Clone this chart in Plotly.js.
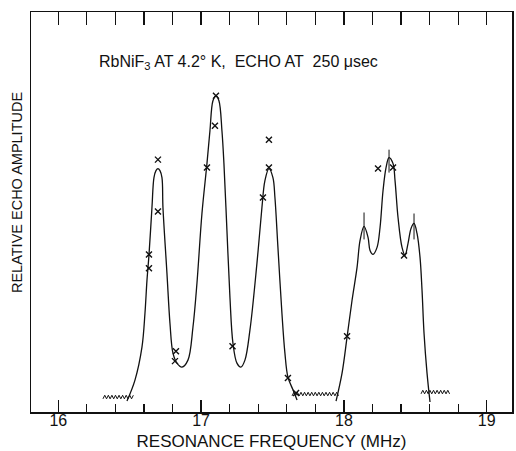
<!DOCTYPE html>
<html>
<head>
<meta charset="utf-8">
<script src="https://cdn.plot.ly/plotly-3.0.1.min.js"></script>
<style>html,body{margin:0;padding:0;background:#fff;}#chart{width:516px;height:451px;}</style>
</head>
<body>
<div id="chart"></div>
<script>
// Smooth curve through the echo data: three-peak group (MHz, relative amplitude)
const curveAFreq = [16.481,16.537,16.586,16.607,16.621,16.635,16.656,16.670,16.684,16.698,16.712,16.726,16.733,16.761,16.782,16.803,16.831,16.866,16.908,16.943,16.971,17.006,17.041,17.062,17.083,17.104,17.125,17.146,17.160,17.181,17.202,17.223,17.251,17.279,17.307,17.342,17.391,17.426,17.447,17.475,17.503,17.517,17.538,17.566,17.587,17.608,17.644,17.672];
const curveAAmp  = [2.75,8,16.25,24.75,33,39.25,51.25,58.75,60.5,61,60.5,58.75,51.25,34.75,22.25,14.75,12.25,11.25,13,21.25,32.25,49.75,62.25,70.5,78,79.25,78,70.5,62.25,45.5,28.75,17.25,12.25,11.25,13,20.5,37.25,51.25,58,61,58.75,53.75,41.25,24.75,14.75,8.75,5.5,3];
// Triplet group
const curveBFreq = [17.945,17.987,18.022,18.057,18.092,18.113,18.141,18.169,18.183,18.204,18.232,18.253,18.274,18.295,18.316,18.344,18.358,18.379,18.407,18.428,18.449,18.470,18.491,18.512,18.533,18.547,18.561,18.582,18.603];
const curveBAmp  = [2.75,9.75,18.75,28,36.25,43,46.5,43.75,40.5,39.5,41.25,46.25,55.5,61.25,63.75,62.25,58,48.75,41.25,39.25,42.25,46,47.25,44.75,38.75,30.5,19.75,9.75,2.5];
// Measured points (x marks)
const pointFreq = [16.698,16.698,16.635,16.635,16.824,16.817,17.104,17.097,17.041,17.220,17.475,17.475,17.433,17.608,17.665,18.022,18.239,18.344,18.421];
const pointAmp  = [63.25,50.25,39.5,36,15.25,12.75,79.25,71.75,61.25,16.5,68.25,61.25,53.75,8.5,4.75,19,61,61.25,39.25];
// Short vertical markers at the triplet peaks
const barFreq = [18.141,18.316,18.491];
const barLow  = [43.25,60,43.25];
const barHigh = [50,65.75,49.75];
// Noise-level baseline segments (start MHz, end MHz, level)
const noiseStart = [16.313,17.637,18.540];
const noiseEnd   = [16.530,17.973,18.750];
const noiseLevel = [3.75,4.5,5];
// Axis tick labels
const majorTicks = [16,17,18,19];
const majorLabels = ['16','17','18','19'];

const FONT = 'Liberation Sans, Arial, sans-serif';
const ink = '#111';

// zig-zag rendering of the noise segments (purely decorative texture)
const zx = [], zy = [];
for (let s = 0; s < noiseStart.length; s++) {
  const step = 0.0125; let k = 0;
  for (let f = noiseStart[s]; f <= noiseEnd[s] + 1e-9; f += step, k++) {
    zx.push(f); zy.push(noiseLevel[s] + (k % 2 ? 0.45 : -0.45));
  }
  zx.push(null); zy.push(null);
}
const bx = [], by = [];
for (let i = 0; i < barFreq.length; i++) { bx.push(barFreq[i], barFreq[i], null); by.push(barLow[i], barHigh[i], null); }

const traces = [
  {x: curveAFreq, y: curveAAmp, mode: 'lines', line: {color: ink, width: 1.3, shape: 'spline', smoothing: 1}, hoverinfo: 'skip'},
  {x: curveBFreq, y: curveBAmp, mode: 'lines', line: {color: ink, width: 1.3, shape: 'spline', smoothing: 1}, hoverinfo: 'skip'},
  {x: pointFreq, y: pointAmp, mode: 'markers', marker: {symbol: 'x-thin-open', size: 6, color: ink, line: {color: ink, width: 1.4}}},
  {x: zx, y: zy, mode: 'lines', line: {color: ink, width: 1}, connectgaps: false, hoverinfo: 'skip'},
  {x: bx, y: by, mode: 'lines', xaxis: 'x2', line: {color: ink, width: 1}, connectgaps: false, hoverinfo: 'skip'}
];

const xr = [15.809, 19.177];
const layout = {
  width: 516, height: 451,
  margin: {l: 31, r: 4, t: 12, b: 39},
  paper_bgcolor: '#fff', plot_bgcolor: '#fff',
  showlegend: false,
  font: {family: FONT, color: ink},
  xaxis: {
    range: xr, tickmode: 'array', tickvals: majorTicks, ticktext: majorLabels,
    ticks: 'inside', ticklen: 12, tickwidth: 1.3, tickcolor: ink,
    minor: {dtick: 0.2, tick0: 16, ticks: 'inside', ticklen: 8, tickwidth: 1.3, tickcolor: ink, showgrid: false},
    showline: true, linecolor: ink, linewidth: 1.5, mirror: true,
    showgrid: false, zeroline: false,
    ticklabelstandoff: -7,
    tickfont: {family: FONT, size: 16, color: ink},
    title: {text: 'RESONANCE FREQUENCY (MHz)', font: {family: FONT, size: 17, color: ink}, standoff: 13}
  },
  xaxis2: {
    range: xr, overlaying: 'x', side: 'top', anchor: 'y',
    tickmode: 'linear', tick0: 16, dtick: 0.2,
    ticks: 'inside', ticklen: 13, tickwidth: 1.3, tickcolor: ink,
    showticklabels: false, showgrid: false, zeroline: false, showline: false
  },
  yaxis: {
    range: [0, 100.25], showticklabels: false, ticks: '',
    showline: true, linecolor: ink, linewidth: 1.5, mirror: true,
    showgrid: false, zeroline: false
  },
  annotations: [
    {xref: 'paper', yref: 'paper', x: 0.137, y: 0.875, xanchor: 'left', yanchor: 'middle', showarrow: false,
     text: 'RbNiF<sub>3</sub> AT 4.2° K,\u00a0 ECHO AT\u00a0 250 μsec', font: {family: FONT, size: 16, color: ink}},
    {xref: 'paper', yref: 'paper', x: -0.029, y: 0.5475, xanchor: 'center', yanchor: 'middle', showarrow: false,
     textangle: -90, text: 'RELATIVE ECHO AMPLITUDE', font: {family: FONT, size: 14.5, color: ink}}
  ]
};

Plotly.newPlot('chart', traces, layout, {staticPlot: true, displayModeBar: false});
</script>
</body>
</html>
